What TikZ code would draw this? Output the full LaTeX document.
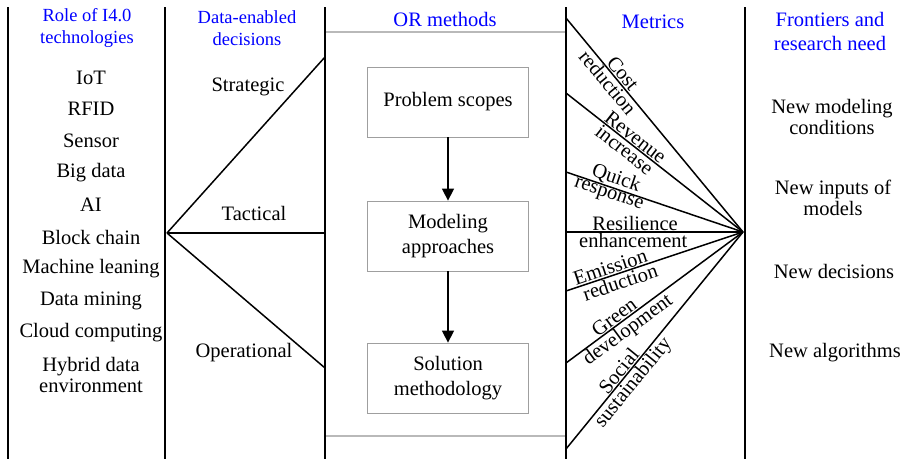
\documentclass[tikz,border=0pt]{standalone}
\usepackage{fontspec}
\setmainfont{Liberation Serif}
\usetikzlibrary{arrows.meta}
\begin{document}
\begin{tikzpicture}[x=1pt,y=-1pt,
  txt/.style={font=\fontsize{20.5}{21.5}\selectfont, inner sep=0pt, align=center},
  head/.style={txt, text=blue, font=\fontsize{20.5}{24}\selectfont},
  headsm/.style={txt, text=blue, font=\fontsize{18.5}{22}\selectfont},
  bx/.style={draw=gray!75, line width=0.8pt, minimum width=161pt, minimum height=70pt,
    inner sep=0pt, align=center, font=\fontsize{20.5}{25}\selectfont},
  col/.style={line width=1.6pt},
  ray/.style={line width=1.5pt},
  lab/.style={font=\fontsize{20.5}{22}\selectfont, sloped, inner sep=0.8pt},
  flow/.style={line width=1.5pt, -{Triangle[width=12pt,length=12pt]}}
]
\useasboundingbox (0,0) rectangle (911,459);

% OR methods frame
\draw[gray!55, line width=1.2pt] (325,32) rectangle (566,436);

% column separators
\foreach \x/\n in {8/a,165/b,325/c,566/d,745/e}{
  \coordinate (t\n) at (\x,7);
  \coordinate (u\n) at (\x,459);
  \draw[col] (t\n) -- (u\n);
}

% headings
\node[headsm] (h1) at (87,28) {Role of I4.0\\technologies};
\node[headsm] (h2) at (247,28) {Data-enabled\\decisions};
\node[head] (h3) at (445,19) {OR methods};
\node[head] (h4) at (653,22) {Metrics};
\node[head] (h5) at (830,31) {Frontiers and\\research need};

% technologies
\node[txt] (k1) at (91,78) {IoT};
\node[txt] (k2) at (91,109) {RFID};
\node[txt] (k3) at (91,141) {Sensor};
\node[txt] (k4) at (91,173) {Big data};
\node[txt] (k5) at (91,205) {AI};
\node[txt] (k6) at (91,237) {Block chain};
\node[txt] (k7) at (91,269) {Machine leaning};
\node[txt] (k8) at (91,301) {Data mining};
\node[txt] (k9) at (91,333) {Cloud computing};
\node[txt] (k10) at (91,375) {Hybrid data\\environment};

% decisions
\coordinate (apex) at (167,233);
\coordinate (ds) at (325,57);
\coordinate (dt) at (325,233);
\coordinate (do) at (325,368);
\draw[ray] (apex) -- (ds);
\draw[ray] (apex) -- (dt);
\draw[ray] (apex) -- (do);
\node[txt] (s1) at (248,87) {Strategic};
\node[txt] (s2) at (254,213) {Tactical};
\node[txt] (s3) at (244,353) {Operational};

% OR method boxes
\node[bx] (p1) at (448,102) {Problem scopes};
\node[bx] (p2) at (448,236) {Modeling\\approaches};
\node[bx] (p3) at (448,378) {Solution\\methodology};
\draw[flow] (p1) -- (p2);
\draw[flow] (p2) -- (p3);

% metrics fan
\coordinate (hub) at (743,232);
\coordinate (m1) at (566,18);
\coordinate (m2) at (566,93);
\coordinate (m3) at (566,172);
\coordinate (m4) at (566,232);
\coordinate (m5) at (566,291);
\coordinate (m6) at (566,363);
\coordinate (m7) at (566,449);
\draw[ray] (m1) -- node[lab, pos=0.285, above] (c1a) {Cost} node[lab, pos=0.275, below] (c1b) {reduction} (hub);
\draw[ray] (m2) -- node[lab, pos=0.365, above] (c2a) {Revenue} node[lab, pos=0.36, below] (c2b) {increase} (hub);
\draw[ray] (m3) -- node[lab, pos=0.265, above] (c3a) {Quick} node[lab, pos=0.255, below] (c3b) {response} (hub);
\draw[ray] (m4) -- node[lab, pos=0.39, above] (c4a) {Resilience} node[lab, pos=0.38, below] (c4b) {enhancement} (hub);
\draw[ray] (m5) -- node[lab, pos=0.265, above] (c5a) {Emission} node[lab, pos=0.29, below] (c5b) {reduction} (hub);
\draw[ray] (m6) -- node[lab, pos=0.30, above] (c6a) {Green} node[lab, pos=0.315, below] (c6b) {development} (hub);
\draw[ray] (m7) -- node[lab, pos=0.335, above] (c7a) {Social} node[lab, pos=0.335, below] (c7b) {sustainability} (hub);

% frontiers
\node[txt] (f1) at (832,117) {New modeling\\conditions};
\node[txt] (f2) at (833,198) {New inputs of\\models};
\node[txt] (f3) at (834,271) {New decisions};
\node[txt] (f4) at (835,353) {New algorithms};
\end{tikzpicture}
\end{document}
